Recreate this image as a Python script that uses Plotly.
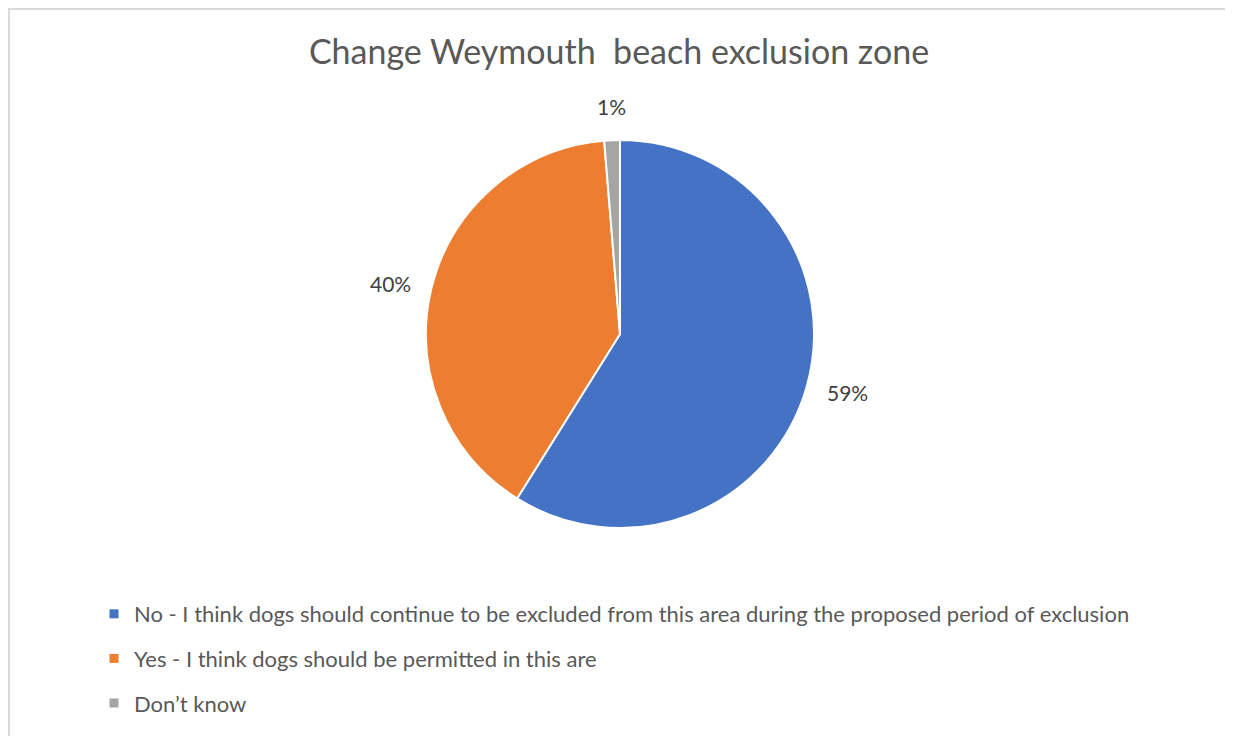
import math

import plotly.graph_objects as go

# ---------------------------------------------------------------------------
# DATA
# ---------------------------------------------------------------------------
TITLE = "Change Weymouth  beach exclusion zone"
LABELS = [
    "No - I think dogs should continue to be excluded from this area during the proposed period of exclusion",
    "Yes - I think dogs should be permitted in this are",
    "Don\u2019t know",
]
SHARES = [58.9, 39.8, 1.3]
COLORS = ["#4472C4", "#ED7D31", "#A5A5A5"]

# ---------------------------------------------------------------------------
# LAYOUT CONSTANTS (page has an 8px body margin, so sizes are reduced)
# ---------------------------------------------------------------------------
W, H = 1225, 728
FONT = "Lato, 'Open Sans', sans-serif"
PIE_CX, PIE_CY, PIE_R = 612, 326, 194  # pixels in figure space
LABEL_GAP = 19

fig = go.Figure()

fig.add_trace(
    go.Pie(
        labels=LABELS,
        values=SHARES,
        sort=False,
        direction="clockwise",
        rotation=0,
        marker=dict(colors=COLORS, line=dict(color="white", width=2)),
        textinfo="none",
        showlegend=False,
        hoverinfo="label+percent",
        domain=dict(
            x=[(PIE_CX - PIE_R) / W, (PIE_CX + PIE_R) / W],
            y=[1 - (PIE_CY + PIE_R) / H, 1 - (PIE_CY - PIE_R) / H],
        ),
    )
)

# Data labels, placed outside each slice along its mid-angle (Excel style)
total = sum(SHARES)
cum = 0.0
for val in SHARES:
    theta = 2 * math.pi * (cum + val / 2) / total
    cum += val
    sx, sy = math.sin(theta), -math.cos(theta)
    px = PIE_CX + (PIE_R + LABEL_GAP) * sx
    py = PIE_CY + (PIE_R + LABEL_GAP) * sy
    xanchor = "left" if sx > 0.25 else ("right" if sx < -0.25 else "center")
    yanchor = "top" if sy > 0.5 else ("bottom" if sy < -0.5 else "middle")
    fig.add_annotation(
        x=px / W,
        y=1 - py / H,
        xref="paper",
        yref="paper",
        text=f"{round(100 * val / total)}%",
        showarrow=False,
        xanchor=xanchor,
        yanchor=yanchor,
        font=dict(size=21, color="#404040", family=FONT),
    )

# Legend entries (one group each so the vertical gap matches the original)
for i, (lab, col) in enumerate(zip(LABELS, COLORS)):
    fig.add_trace(
        go.Scatter(
            x=[None],
            y=[None],
            mode="markers",
            name=lab,
            legendgroup=f"g{i}",
            marker=dict(symbol="square", size=9, color=col),
            hoverinfo="skip",
        )
    )

fig.update_layout(
    width=W,
    height=H,
    margin=dict(l=0, r=0, t=0, b=0),
    paper_bgcolor="white",
    plot_bgcolor="white",
    title=dict(
        text=TITLE,
        x=611 / W,
        xanchor="center",
        y=1 - 44 / H,
        yanchor="middle",
        font=dict(size=34, color="#595959", family=FONT),
    ),
    xaxis=dict(visible=False),
    yaxis=dict(visible=False),
    legend=dict(
        x=86 / W,
        xanchor="left",
        y=1 - 585 / H,
        yanchor="top",
        tracegroupgap=13,
        font=dict(size=22, color="#595959", family=FONT),
        bgcolor="rgba(0,0,0,0)",
    ),
    shapes=[
        dict(
            type="rect",
            xref="paper",
            yref="paper",
            x0=1 / W,
            x1=1223 / W,
            y0=-0.02,
            y1=1 - 1 / H,
            line=dict(color="#D9D9D9", width=2),
            fillcolor="rgba(0,0,0,0)",
            layer="below",
        )
    ],
)

fig.write_html("out.html")
